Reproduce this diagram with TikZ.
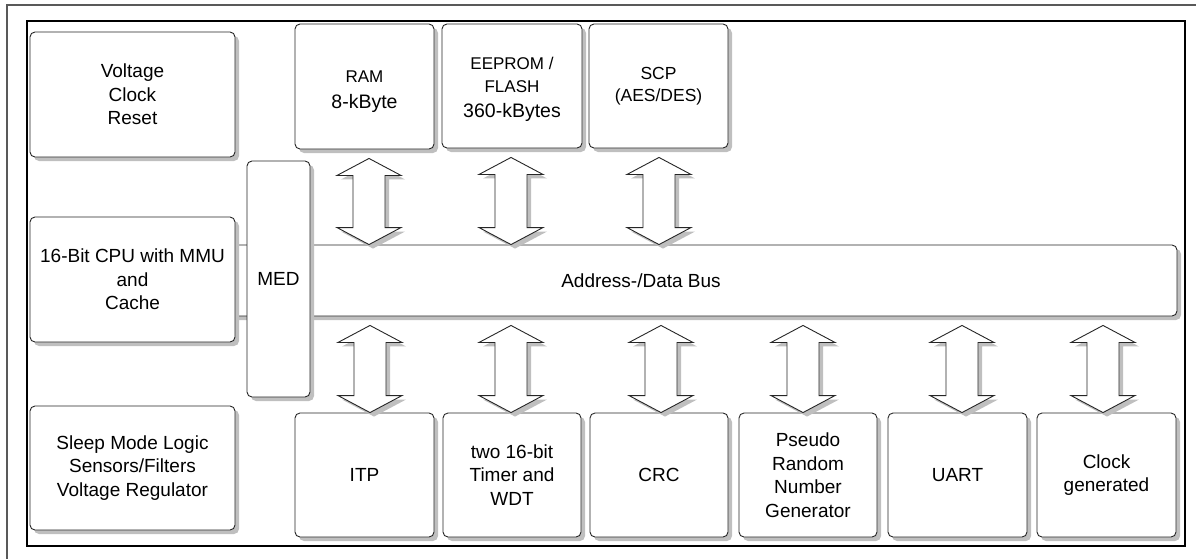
\documentclass[tikz,border=0pt]{standalone}
\usepackage{fontspec}
\setmainfont{Liberation Sans}
\usetikzlibrary{calc,shadows}
\tikzset{
 shad/.style={drop shadow={shadow xshift=4pt,shadow yshift=-4pt,fill=black!25,opacity=1}},
 blk/.style={draw=black!85,line width=0.9pt,rounded corners=5pt,fill=white,shad,align=center,inner sep=0pt,font=\fontsize{19}{23.5}\selectfont},
 topblk/.style={blk,minimum width=139pt,minimum height=124pt},
 lowblk/.style={blk,minimum width=139pt,minimum height=124pt},
 leftblk/.style={blk,minimum width=205pt,minimum height=125pt},
 toptext/.style={align=center,inner sep=0pt},
 barrow/.style={draw=black!85,line width=0.9pt,fill=white,shad,line join=miter},
}
\newcommand\busarrow[3]{%
 \draw[barrow] let \p1=(#2),\p2=(#3) in
  (#1pt,\y1-9pt) -- (#1pt+32pt,\y1-26pt) -- (#1pt+16pt,\y1-26pt) --
  (#1pt+16pt,\y2+17pt) -- (#1pt+32pt,\y2+17pt) -- (#1pt,\y2) --
  (#1pt-32pt,\y2+17pt) -- (#1pt-16pt,\y2+17pt) -- (#1pt-16pt,\y1-26pt) --
  (#1pt-32pt,\y1-26pt) -- cycle;}
\begin{document}
\begin{tikzpicture}[x=1pt,y=-1pt]
\useasboundingbox (0,0) rectangle (1196,558);
\draw[black!65,line width=1.3pt] (7,562) -- (7,5) -- (1200,5);
\draw[line width=2.5pt] (27,21) rectangle (1185,546);
% bus
\node[blk,minimum width=1072pt,minimum height=71pt] (bus) at (641,280.5) {Address-/Data Bus};
% left column
\node[leftblk] (volt) at (132.5,94.5) {Voltage\\Clock\\Reset};
\node[leftblk] (cpu) at (132.5,279.5) {16-Bit CPU with MMU\\and\\Cache};
\node[leftblk,minimum height=124pt] (sleep) at (132.5,468) {Sleep Mode Logic\\Sensors/Filters\\Voltage Regulator};
% MED
\node[blk,minimum width=63pt,minimum height=236pt] (med) at (278.5,279) {MED};
% top memories
\node[topblk,minimum height=125pt] (ram) at (364.5,86.5) {};
\node[toptext,font=\fontsize{17}{26}\selectfont] (ramt) at ($(ram.center)+(0,5)$) {RAM\\{\fontsize{19.5}{26}\selectfont 8-kByte}};
\node[topblk,minimum width=140pt] (eeprom) at (512,86) {};
\node[toptext,font=\fontsize{17}{22.5}\selectfont] (eepromt) at ($(eeprom.center)+(0,3.5)$) {EEPROM /\\FLASH\\[2.5pt]{\fontsize{19.5}{22.5}\selectfont 360-kBytes}};
\node[topblk,font=\fontsize{17.5}{22.5}\selectfont] (scp) at (658.5,86) {SCP\\(AES/DES)};
% lower peripherals
\node[lowblk] (itp) at (364.5,475) {ITP};
\node[lowblk,minimum width=138pt] (timer) at (512,475) {two 16-bit\\Timer and\\WDT};
\node[lowblk,minimum width=138pt] (crc) at (659,475) {CRC};
\node[lowblk,minimum width=138pt] (prng) at (808,475) {Pseudo\\Random\\Number\\Generator};
\node[lowblk] (uart) at (957.5,475) {UART};
\node[lowblk] (clk) at (1106.5,475) {Clock\\generated};
% arrows
\busarrow{369}{ram.south}{bus.north}
\busarrow{511}{eeprom.south}{bus.north}
\busarrow{659}{scp.south}{bus.north}
\busarrow{370}{bus.south}{itp.north}
\busarrow{511}{bus.south}{timer.north}
\busarrow{661}{bus.south}{crc.north}
\busarrow{803}{bus.south}{prng.north}
\busarrow{962}{bus.south}{uart.north}
\busarrow{1103}{bus.south}{clk.north}
\end{tikzpicture}
\end{document}
